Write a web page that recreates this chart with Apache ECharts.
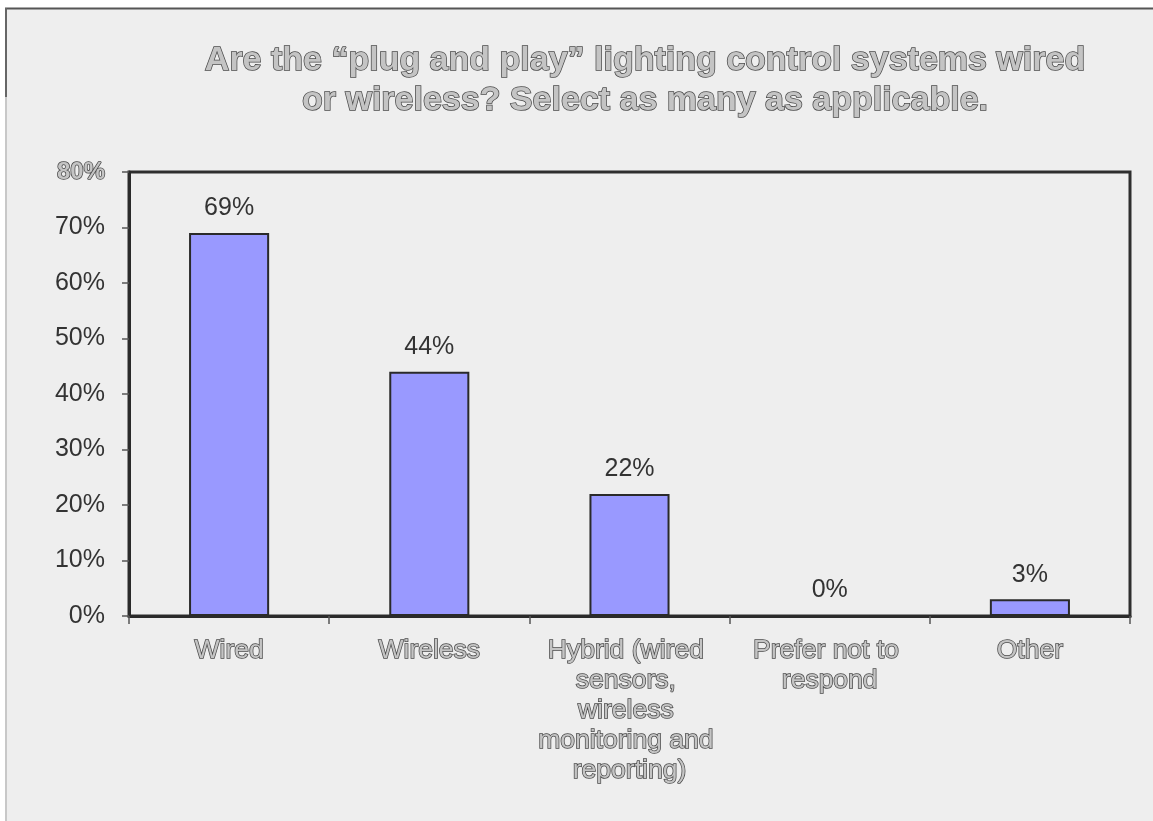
<!DOCTYPE html>
<html>
<head>
<meta charset="utf-8">
<style>
  html, body { margin: 0; padding: 0; background: #ffffff; }
  #chart { width: 1153px; height: 821px; }
</style>
<script src="https://cdn.jsdelivr.net/npm/echarts@6/dist/echarts.min.js"></script>
</head>
<body>
<div id="chart"></div>
<script>
// Survey answers: share of respondents choosing each option
const categories = [
  'Wired',
  'Wireless',
  'Hybrid (wired sensors, wireless monitoring and reporting)',
  'Prefer not to respond',
  'Other'
];
const shares = [69, 44, 22, 0, 3];
const yTicks = [0, 10, 20, 30, 40, 50, 60, 70, 80];

const titleLines = [
  'Are the \u201cplug and play\u201d lighting control systems wired',
  'or wireless? Select as many as applicable.'
];

// Embossed grey lettering used for title and category names
const embossed = {
  color: '#c4c4c4',
  textBorderColor: '#4a4a4a',
  textBorderWidth: 1.5
};

const chart = echarts.init(document.getElementById('chart'), null, { renderer: 'canvas' });

chart.setOption({
  backgroundColor: '#ffffff',
  animation: false,
  graphic: [
    // slide panel
    { type: 'rect', z: -10, shape: { x: 5, y: 8, width: 1160, height: 830 },
      style: { fill: '#eeeeee' } },
    { type: 'line', z: -9, shape: { x1: 5, y1: 8.5, x2: 1153, y2: 8.5 },
      style: { stroke: '#555555', lineWidth: 2 } },
    { type: 'line', z: -9, shape: { x1: 6, y1: 8, x2: 6, y2: 97 },
      style: { stroke: '#666666', lineWidth: 2 } },
    { type: 'line', z: -9, shape: { x1: 6, y1: 97, x2: 6, y2: 821 },
      style: { stroke: '#c8c8c8', lineWidth: 2 } }
  ],
  title: {
    text: titleLines.join('\n'),
    left: 640,
    top: 36,
    textAlign: 'center',
    textStyle: Object.assign({
      fontFamily: 'Liberation Sans, Arial, sans-serif',
      fontWeight: 'bold',
      fontSize: 34,
      lineHeight: 40
    }, embossed)
  },
  grid: {
    left: 129,
    right: 23,
    top: 172,
    bottom: 205,
    show: true,
    borderColor: '#2e2e2e',
    borderWidth: 3,
    backgroundColor: 'transparent'
  },
  xAxis: {
    type: 'category',
    data: categories,
    axisLine: { show: true, lineStyle: { color: '#2a2a2a', width: 3 } },
    axisTick: { show: true, length: 8, lineStyle: { color: '#555555', width: 1.5 } },
    axisLabel: Object.assign({
      fontFamily: 'Liberation Sans, Arial, sans-serif',
      fontSize: 26.5,
      lineHeight: 30,
      margin: 20,
      width: 190,
      overflow: 'break',
      interval: 0
    }, embossed)
  },
  yAxis: {
    type: 'value',
    min: 0,
    max: 80,
    interval: 10,
    splitLine: { show: false },
    axisLine: { show: true, lineStyle: { color: '#2a2a2a', width: 3 } },
    axisTick: { show: true, length: 7, lineStyle: { color: '#555555', width: 1.5 } },
    axisLabel: {
      fontFamily: 'Liberation Sans, Arial, sans-serif',
      fontSize: 25,
      color: '#333333',
      margin: 24,
      formatter: function (v) {
        if (yTicks.indexOf(v) < 0) return '';
        return v === 80 ? '{top|' + v + '%}' : v + '%';
      },
      rich: {
        top: Object.assign({
          fontFamily: 'Liberation Sans, Arial, sans-serif',
          fontWeight: 'bold',
          fontSize: 24
        }, embossed)
      }
    }
  },
  series: [{
    type: 'bar',
    data: shares,
    barWidth: '40%',
    itemStyle: { color: '#9999ff', borderColor: '#2a2a2a', borderWidth: 2 },
    label: {
      show: true,
      position: 'top',
      distance: 12,
      fontFamily: 'Liberation Sans, Arial, sans-serif',
      fontSize: 25,
      color: '#333333',
      formatter: '{c}%'
    }
  }]
});
</script>
</body>
</html>
